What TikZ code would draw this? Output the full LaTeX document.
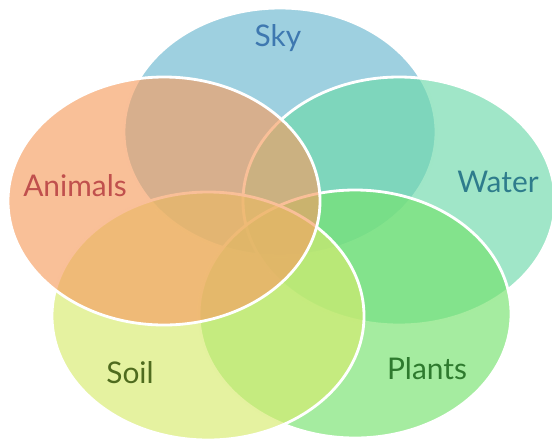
\documentclass[tikz,border=0pt]{standalone}
\usepackage{fontspec}
\setmainfont{Lato}
\usepackage{tikz}
\usetikzlibrary{positioning}
\definecolor{skyfill}{RGB}{106,183,207}
\definecolor{animalfill}{RGB}{246,158,97}
\definecolor{waterfill}{RGB}{109,217,170}
\definecolor{soilfill}{RGB}{215,235,109}
\definecolor{plantfill}{RGB}{117,226,109}
\definecolor{skytext}{RGB}{62,120,176}
\definecolor{animaltext}{RGB}{192,80,77}
\definecolor{watertext}{RGB}{46,124,140}
\definecolor{soiltext}{RGB}{79,107,30}
\definecolor{planttext}{RGB}{46,122,46}
\tikzset{
    setbubble/.style={draw=white, line width=1.6pt, fill opacity=.65},
    setlabel/.style={font=\fontsize{17}{20}\selectfont, inner sep=0pt},
}

\begin{document}
\begin{tikzpicture}
		\useasboundingbox (0,0) rectangle (11.04,8.82);
		% the five sets, bottom one first
		\draw[setbubble, fill=skyfill] (5.6,6.18) ellipse (3.12 and 2.48);
		\draw[setbubble, fill=waterfill] (7.98,4.8) ellipse (3.12 and 2.48);
		\draw[setbubble, fill=plantfill] (7.1,2.54) ellipse (3.12 and 2.48);
		\draw[setbubble, fill=soilfill] (4.16,2.5) ellipse (3.12 and 2.48);
		\draw[setbubble, fill=animalfill] (3.28,4.8) ellipse (3.12 and 2.48);
		% labels
		\node[setlabel, text=skytext] (sky) at (5.56,8.06) {Sky};
		\node[setlabel, text=animaltext] (animals) at (1.5,5.1) {Animals};
		\node[setlabel, text=watertext] (water) at (9.96,5.18) {Water};
		\node[setlabel, text=soiltext] (soil) at (2.6,1.36) {Soil};
		\node[setlabel, text=planttext] (plants) at (8.54,1.44) {Plants};
\end{tikzpicture}
\end{document}
